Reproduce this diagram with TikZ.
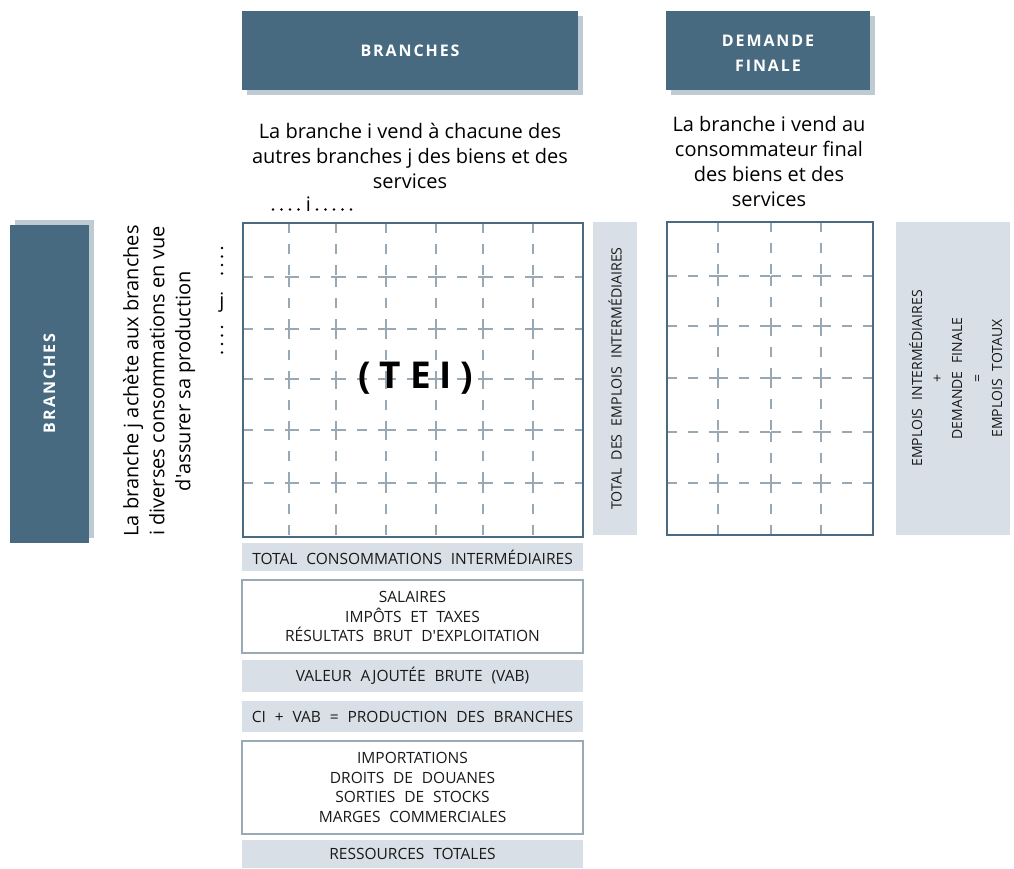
\documentclass[tikz,border=0pt]{standalone}
\usepackage{fontspec}
\setmainfont{Open Sans}
\newfontfamily\capsfont[WordSpace=2.2]{Open Sans}
\newfontfamily\hdrfont[LetterSpace=12,WordSpace=1.5]{Open Sans}
\newfontfamily\teifont[LetterSpace=24]{Open Sans}
\usetikzlibrary{shadows}
\definecolor{hdrblue}{RGB}{71,106,128}
\definecolor{hdrshadow}{RGB}{190,203,211}
\definecolor{panelgray}{RGB}{216,223,230}
\definecolor{gridgray}{RGB}{152,169,181}
\definecolor{framebl}{RGB}{75,106,128}
\definecolor{boxedge}{RGB}{154,170,181}
\definecolor{ink}{RGB}{25,25,25}
\tikzset{
  hdr/.style={fill=hdrblue, text=white, inner sep=0pt, align=center,
    font=\hdrfont\bfseries\fontsize{16}{25}\selectfont},
  panel/.style={fill=panelgray, inner sep=0pt, align=center, text=ink,
    font=\capsfont\fontsize{15.5}{19.5}\selectfont},
  listbox/.style={fill=white, draw=boxedge, line width=2pt, inner sep=0pt,
    align=center, text=ink, font=\capsfont\fontsize{15.5}{19.5}\selectfont},
  frame/.style={draw=framebl, line width=2.5pt, inner sep=0pt},
  gridline/.style={draw=gridgray, line width=2pt, dash pattern=on 10pt off 11pt},
  body/.style={align=center, text=black, inner sep=0pt,
    font=\fontsize{20}{24.8}\selectfont},
  idx/.style={inner sep=0pt, font=\fontsize{20}{20}\selectfont},
}
\begin{document}
\begin{tikzpicture}[x=1pt,y=-1pt]
\useasboundingbox (0,0) rectangle (1014,868);

% column headers
\node[hdr, minimum width=336pt, minimum height=79pt,
  general shadow={shadow xshift=5pt, shadow yshift=-5pt, fill=hdrshadow}]
  (hbr) at (410,50.5) {BRANCHES};
\node[hdr, minimum width=204pt, minimum height=79pt,
  general shadow={shadow xshift=5pt, shadow yshift=-5pt, fill=hdrshadow}]
  (hdf) at (768,50.5) {\raisebox{-3pt}[\height][\depth]{\begin{tabular}{@{}c@{}}DEMANDE\\FINALE\end{tabular}}};

% row header
\node[hdr, minimum width=79pt, minimum height=318pt,
  general shadow={shadow xshift=5pt, shadow yshift=5pt, fill=hdrshadow}]
  (hrow) at (49.5,383.5) {\rotatebox{90}{BRANCHES}};

% explanatory texts
\node[body] (tsell) at (410,156) {La branche i vend à chacune des\\autres branches j des biens et des\\services};
\node[body] (tfin) at (769,161.5) {La branche i vend au\\consommateur final\\des biens et des\\services};
\node[body, rotate=90, font=\fontsize{20}{26}\selectfont] (tbuy) at (159,381)
  {La branche j achète aux branches\\i diverses consommations en vue\\d\textquotesingle assurer sa production};

% column index i between dotted runs
\node[idx, anchor=base] (ilbl) at (308.5,211) {i};
\foreach \x in {273,281.5,290,298.5,317,325.5,334,342.5,351}
  \fill (\x,209.5) circle (1.45pt);
% row index j between dotted runs
\node[idx, anchor=base] (jlbl) at (222,307) {j};
\foreach \y in {248,256.5,265,273.5,327,335.5,344,352.5}
  \fill (222,\y) circle (1.45pt);

% intermediate consumption table: dashed cell edges, then the frame
\foreach \x in {289,336,386,436,483,533}
  \foreach \y [remember=\y as \yp (initially 223)] in {277,329,379,430,483,537}
    \draw[gridline] (\x,\yp) -- (\x,\y);
\foreach \y in {277,329,379,430,483}
  \foreach \x [remember=\x as \xp (initially 243)] in {289,336,386,436,483,533,583}
    \draw[gridline] (\xp,\y) -- (\x,\y);
\node[frame, minimum width=340pt, minimum height=314pt] (tei) at (413,380) {};
\node[inner sep=0pt, font=\teifont\bfseries\fontsize{37}{37}\selectfont] (teilbl) at (416,378) {(TEI)};

% final demand table
\foreach \x in {718,771,821}
  \foreach \y [remember=\y as \yp (initially 222)] in {276,326,378,432,483,535}
    \draw[gridline] (\x,\yp) -- (\x,\y);
\foreach \y in {276,326,378,432,483}
  \foreach \x [remember=\x as \xp (initially 667)] in {718,771,821,873}
    \draw[gridline] (\xp,\y) -- (\x,\y);
\node[frame, minimum width=206pt, minimum height=313pt] (fd) at (770,378.5) {};

% row totals
\node[panel, minimum width=44pt, minimum height=313pt] (tei-tot) at (615,378.5)
  {\rotatebox{90}{\fontsize{14.2}{15}\selectfont TOTAL DES EMPLOIS INTERMÉDIAIRES}};
\node[panel, minimum width=114pt, minimum height=313pt] (emp-tot) at (953,378.5)
  {\hspace*{10pt}\rotatebox{90}{\fontsize{14}{20}\selectfont\begin{tabular}{@{}c@{}}EMPLOIS INTERMÉDIAIRES\\+\\DEMANDE FINALE\\=\\EMPLOIS TOTAUX\end{tabular}}};

% column totals and resources
\node[panel, minimum width=341pt, minimum height=28pt] (ci) at (412.5,557) {TOTAL CONSOMMATIONS INTERMÉDIAIRES};
\node[listbox, minimum width=341pt, minimum height=73pt] (va) at (412.5,616.5) {SALAIRES\\IMPÔTS ET TAXES\\RÉSULTATS BRUT D\textquotesingle EXPLOITATION};
\node[panel, minimum width=341pt, minimum height=32pt] (vab) at (412.5,676) {VALEUR AJOUTÉE BRUTE (VAB)};
\node[panel, minimum width=341pt, minimum height=31pt] (prod) at (412.5,716.5) {CI + VAB = PRODUCTION DES BRANCHES};
\node[listbox, minimum width=341pt, minimum height=93pt] (imp) at (412.5,787.5) {IMPORTATIONS\\DROITS DE DOUANES\\SORTIES DE STOCKS\\MARGES COMMERCIALES};
\node[panel, minimum width=341pt, minimum height=28pt] (res) at (412.5,854) {RESSOURCES TOTALES};
\end{tikzpicture}
\end{document}
